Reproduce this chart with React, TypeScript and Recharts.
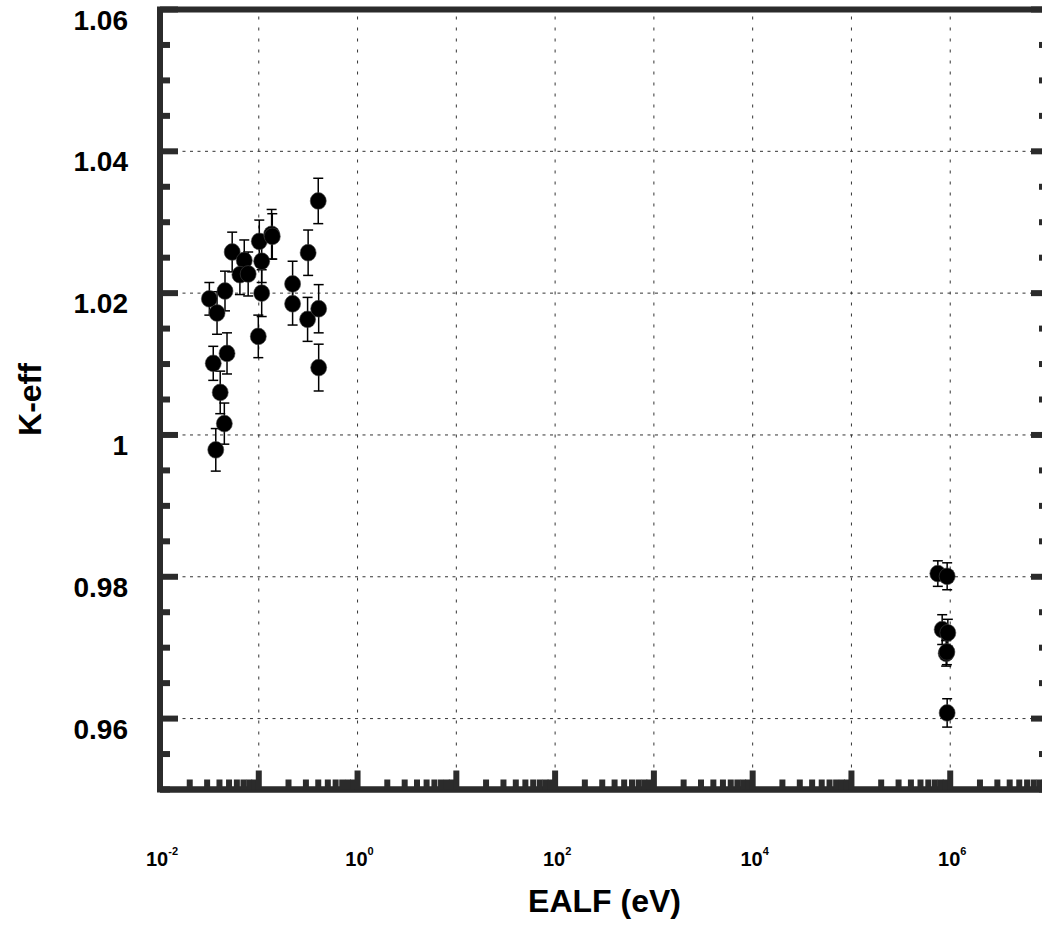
import { ScatterChart, Scatter, XAxis, YAxis, ErrorBar, ReferenceLine, ReferenceArea } from 'recharts';

// EALF (eV), k-eff and 1-sigma
const ealf = [
  0.0316, 0.0378, 0.0346, 0.0477, 0.0407, 0.0448, 0.0367, 0.0455, 0.0538, 0.0713,
  0.0644, 0.0781, 0.1012, 0.1349, 0.137, 0.107, 0.107, 0.0989, 0.4, 0.316,
  0.22, 0.22, 0.312, 0.404, 0.404,
  7.49e5, 9.31e5, 8.29e5, 9.46e5, 9.1e5, 9.25e5, 9.31e5,
];
const keff = [
  1.0192, 1.0172, 1.0101, 1.0115, 1.006, 1.0016, 0.9979, 1.0203, 1.0258, 1.0246,
  1.0226, 1.0227, 1.0273, 1.0283, 1.028, 1.0245, 1.02, 1.0139, 1.033, 1.0257,
  1.0213, 1.0185, 1.0163, 1.0178, 1.0095,
  0.98045, 0.98007, 0.97255, 0.9721, 0.9692, 0.9694, 0.9608,
];
const keffErr = [
  0.0023, 0.003, 0.0024, 0.0029, 0.003, 0.0029, 0.003, 0.0028, 0.0028, 0.0029,
  0.0028, 0.0031, 0.003, 0.0035, 0.0032, 0.003, 0.0033, 0.003, 0.0032, 0.0032,
  0.0032, 0.003, 0.0031, 0.0034, 0.0033,
  0.0018, 0.0019, 0.0021, 0.0019, 0.0018, 0.0018, 0.002,
];

const decadeExps = [-2, -1, 0, 1, 2, 3, 4, 5, 6];
const minorMult = [2, 3, 4, 5, 6, 7, 8, 9];
const xLabelExps = [-2, 0, 2, 4, 6];
const gridDecades = [-1, 0, 1, 2, 3, 4, 5, 6];

const yMajorTicks = [0.96, 0.98, 1.0, 1.02, 1.04, 1.06];
const yTickLabels = ['0.96', '0.98', '1', '1.02', '1.04', '1.06'];
const yGrid = [0.96, 0.98, 1.0, 1.02, 1.04];

const xTicks = [
  ...decadeExps.flatMap((e) => [Math.pow(10, e), ...minorMult.map((m) => m * Math.pow(10, e))]),
  1e7,
];
const yTicks = Array.from({ length: 23 }, (_, i) => +(0.95 + i * 0.005).toFixed(3));

const points = ealf.map((x, i) => ({ x, y: keff[i], err: keffErr[i] }));

const INK = '#2b2b2b';
const FONT = '"Liberation Sans", Arial, sans-serif';

const isDecade = (v: number) => Math.abs(Math.log10(v) - Math.round(Math.log10(v))) < 1e-6;
const yMajorIdx = (v: number) => yMajorTicks.findIndex((t) => Math.abs(t - v) < 1e-6);

const BottomTick = ({ x, y, payload }: any) => {
  const v = payload.value;
  const major = isDecade(v);
  const len = major ? 19 : 10;
  const exp = Math.round(Math.log10(v));
  return (
    <g>
      <line x1={x} x2={x} y1={y} y2={y - len} stroke={INK} strokeWidth={6} />
      {major && xLabelExps.includes(exp) && (
        <text x={x + 2} y={y + 76} textAnchor="middle" fontSize={20} fontWeight="bold" fontFamily={FONT} fill="#000">
          <tspan>10</tspan>
          <tspan dy={-11} fontSize={11}>{exp}</tspan>
        </text>
      )}
    </g>
  );
};

const TopTick = ({ x, y, payload }: any) => {
  const len = isDecade(payload.value) ? 19 : 10;
  return <line x1={x} x2={x} y1={y} y2={y + len} stroke={INK} strokeWidth={6} />;
};

const LeftTick = ({ x, y, payload }: any) => {
  const idx = yMajorIdx(payload.value);
  const len = idx >= 0 ? 18 : 10;
  return (
    <g>
      <line x1={x} x2={x + len} y1={y} y2={y} stroke={INK} strokeWidth={6} />
      {idx >= 0 && (
        <text x={x - 32} y={y + 20} textAnchor="end" fontSize={28} fontWeight="bold" fontFamily={FONT} fill="#000">
          {yTickLabels[idx]}
        </text>
      )}
    </g>
  );
};

const RightTick = ({ x, y, payload }: any) => {
  const len = yMajorIdx(payload.value) >= 0 ? 18 : 10;
  return <line x1={x - len} x2={x} y1={y} y2={y} stroke={INK} strokeWidth={6} />;
};

const Dot = ({ cx, cy }: any) => <ellipse cx={cx} cy={cy} rx={8} ry={8.4} fill="#000" stroke="#444" strokeWidth={0.6} />;

const XTitle = ({ viewBox }: any) => (
  <text x={viewBox.x + viewBox.width / 2} y={viewBox.y + 122} textAnchor="middle" fontSize={32} fontWeight="bold" fontFamily={FONT} fill="#000">
    EALF (eV)
  </text>
);

const YTitle = ({ viewBox }: any) => {
  const cx = viewBox.x + 41;
  const cy = viewBox.y + viewBox.height / 2;
  return (
    <text x={cx} y={cy} transform={`rotate(-90 ${cx} ${cy})`} textAnchor="middle" fontSize={32} fontWeight="bold" fontFamily={FONT} fill="#000">
      K-eff
    </text>
  );
};

export default function App() {
  return (
    <div style={{ position: 'absolute', left: 0, top: 0, width: 1042, height: 945, overflow: 'hidden', background: '#fff' }}>
      <ScatterChart width={1060} height={945} margin={{ top: 9.5, right: 0, bottom: 0, left: 0 }}>
        <XAxis
          dataKey="x"
          type="number"
          scale="log"
          domain={[0.01, 1e7]}
          allowDataOverflow
          ticks={xTicks}
          interval={0}
          height={155.5}
          tickSize={0}
          tickMargin={0}
          tickLine={false}
          axisLine={{ stroke: INK, strokeWidth: 6 }}
          tick={<BottomTick />}
          label={<XTitle />}
        />
        <XAxis
          xAxisId="top"
          orientation="top"
          type="number"
          scale="log"
          domain={[0.01, 1e7]}
          allowDataOverflow
          ticks={xTicks}
          interval={0}
          height={0}
          tickSize={0}
          tickMargin={0}
          tickLine={false}
          axisLine={{ stroke: INK, strokeWidth: 6 }}
          tick={<TopTick />}
        />
        <YAxis
          dataKey="y"
          type="number"
          domain={[0.95, 1.06]}
          allowDataOverflow
          ticks={yTicks}
          interval={0}
          width={160}
          tickSize={0}
          tickMargin={0}
          tickLine={false}
          axisLine={{ stroke: INK, strokeWidth: 6 }}
          tick={<LeftTick />}
          label={<YTitle />}
        />
        <YAxis
          yAxisId="right"
          orientation="right"
          type="number"
          domain={[0.95, 1.06]}
          allowDataOverflow
          ticks={yTicks}
          interval={0}
          width={11}
          tickSize={0}
          tickMargin={0}
          tickLine={false}
          axisLine={{ stroke: INK, strokeWidth: 6 }}
          tick={<RightTick />}
        />
        {gridDecades.map((e) => (
          <ReferenceLine key={`gx${e}`} x={Math.pow(10, e)} stroke="#333" strokeWidth={1} strokeDasharray="3 8" />
        ))}
        {yGrid.map((v) => (
          <ReferenceLine key={`gy${v}`} y={v} stroke="#333" strokeWidth={1} strokeDasharray="3 4.5" />
        ))}
        <ReferenceArea
          x1={0.01}
          x2={1e7}
          y1={0.95}
          y2={1.06}
          ifOverflow="visible"
          fill="none"
          fillOpacity={0}
          stroke={INK}
          strokeWidth={6}
        />
        <Scatter data={points} shape={<Dot />} isAnimationActive={false}>
          <ErrorBar dataKey="err" direction="y" width={5} stroke="#000" strokeWidth={1.5} isAnimationActive={false} />
        </Scatter>
      </ScatterChart>
    </div>
  );
}
